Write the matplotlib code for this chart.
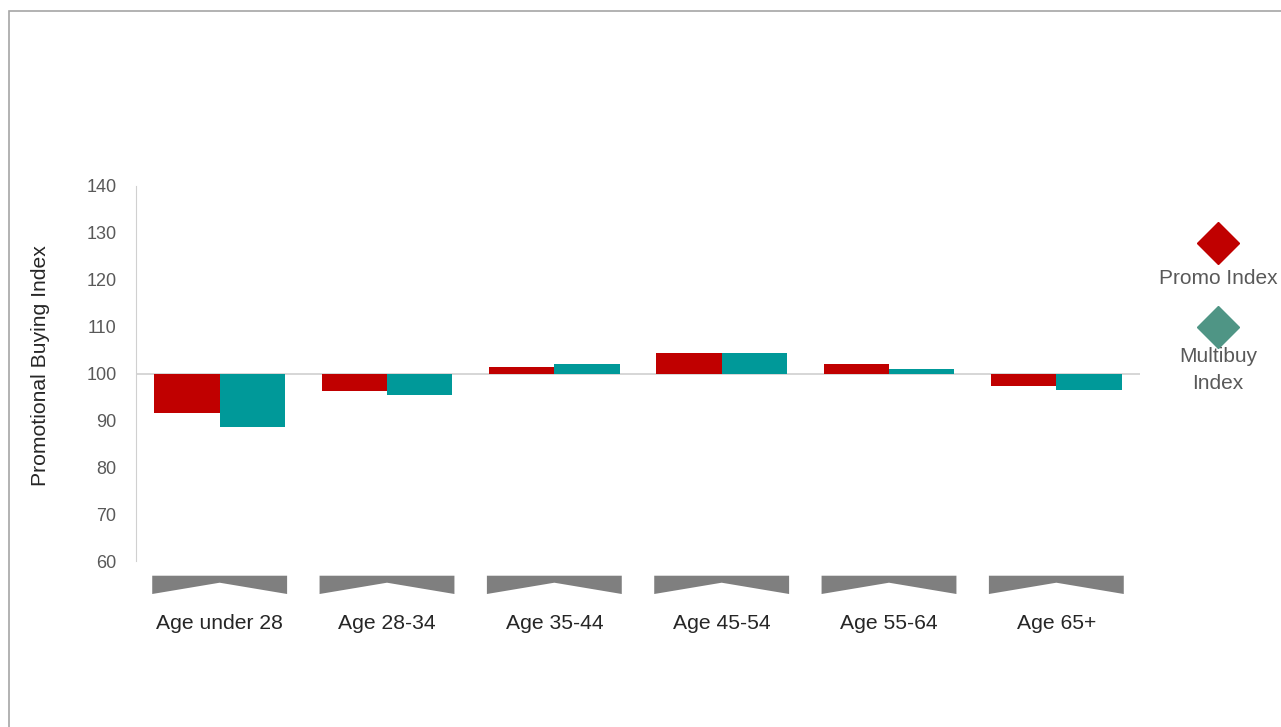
import matplotlib.pyplot as plt
import matplotlib.patches as patches
from matplotlib.lines import Line2D
import numpy as np

plt.rcParams['font.family'] = ['Liberation Sans', 'DejaVu Sans']

# data
age_groups = ['Age under 28', 'Age 28-34', 'Age 35-44', 'Age 45-54', 'Age 55-64', 'Age 65+']
promo_index = [91.5, 96.3, 101.3, 104.4, 102.1, 97.4]
multibuy_index = [88.6, 95.5, 102.1, 104.4, 101.0, 96.4]
base = 100
y_ticks = [60, 70, 80, 90, 100, 110, 120, 130, 140]

red = '#c00000'
teal = '#009999'
gray_txt = '#595959'

fig = plt.figure(figsize=(12.81, 7.27), dpi=100)
ax = fig.add_axes([136/1281, 166/727, 1004/1281, 375/727])

x = np.arange(len(age_groups))
w = 0.39
ax.bar(x - w/2, np.array(promo_index) - base, w, bottom=base, color=red, zorder=3)
ax.bar(x + w/2, np.array(multibuy_index) - base, w, bottom=base, color=teal, zorder=3)

ax.set_xlim(-0.5, len(age_groups) - 0.5)
ax.set_ylim(60, 140)
ax.set_yticks(y_ticks)
ax.tick_params(axis='y', length=0, pad=14, labelsize=13, labelcolor=gray_txt)
ax.set_xticks(x)
ax.set_xticklabels(age_groups, fontsize=15.2, color='#262626')
ax.tick_params(axis='x', length=0, pad=38)

for s in ['top', 'right', 'bottom']:
    ax.spines[s].set_visible(False)
ax.spines['left'].set_color('#d0d0d0')
ax.axhline(base, color='#d0d0d0', lw=1.2, zorder=2)

ax.set_ylabel('Promotional Buying Index', fontsize=15.2, color='#262626')
ax.yaxis.set_label_coords(-0.086, 0.52)

# gray chevron shapes under each category
hw = 0.403
for xi in x:
    pts = [(xi - hw, 56.86), (xi + hw, 56.86), (xi + hw, 52.96),
           (xi, 55.37), (xi - hw, 52.96)]
    ax.add_patch(patches.Polygon(pts, closed=True, color='#7f7f7f',
                                 clip_on=False, lw=0))

# legend on the right
fig.add_artist(Line2D([1218/1281], [1 - 243/727], marker='D', markersize=21,
                      color=red, linestyle='none', transform=fig.transFigure))
fig.text(1218/1281, 1 - 278/727, 'Promo Index', ha='center', va='center',
         fontsize=15, color=gray_txt)
fig.add_artist(Line2D([1218/1281], [1 - 327/727], marker='D', markersize=21,
                      color='#4f9585', linestyle='none', transform=fig.transFigure))
fig.text(1218/1281, 1 - 370/727, 'Multibuy\nIndex', ha='center', va='center',
         fontsize=15, color=gray_txt, linespacing=1.5)

# outer frame
fig.add_artist(patches.Rectangle((9/1281, -0.05), 1.1, 1 - 11/727 + 0.05,
                                 fill=False, edgecolor='#a6a6a6', lw=1.2,
                                 transform=fig.transFigure))

fig.savefig('out.png', dpi=100)
